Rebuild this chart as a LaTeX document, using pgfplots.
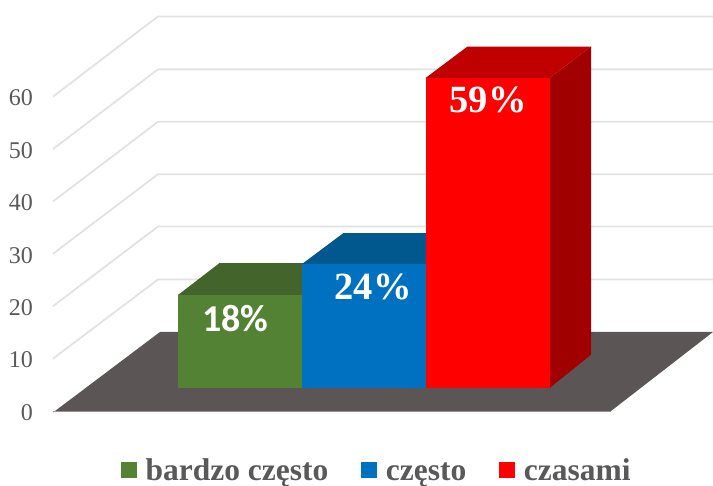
\documentclass[border=0pt]{standalone}
\usepackage{fontspec}
\setmainfont{Liberation Serif}
\newfontfamily\carlito{Carlito}
\usepackage{pgfplots}
\pgfplotsset{compat=1.18}
\definecolor{tickgrey}{HTML}{595959}
\definecolor{gridc}{HTML}{E2E2E2}
\definecolor{floorc}{HTML}{5B5655}
\definecolor{gfront}{HTML}{548235}
\definecolor{gtop}{HTML}{43652B}
\definecolor{bfront}{HTML}{0070C0}
\definecolor{btop}{HTML}{00588F}
\definecolor{rfront}{HTML}{FF0000}
\definecolor{rtop}{HTML}{C00000}
\definecolor{rside}{HTML}{A00000}
\pgfplotsset{
  sq/.style={legend image code/.code={\fill[##1] (0pt,-6.5pt) rectangle (16pt,9.5pt);}},
  poly/.style={forget plot,draw=none,fill=#1},
  gl/.style={forget plot,draw=gridc,line width=1.8pt},
}
\begin{document}
\begin{tikzpicture}[x=1pt,y=1pt]
\useasboundingbox (0,0) rectangle (713pt,486pt);
\begin{axis}[
  at={(36pt,0pt)},anchor=south west,
  scale only axis,width=677pt,height=486pt,
  xmin=36,xmax=713,ymin=-14.31,ymax=78.44,
  clip=false,
  axis line style={draw=none},
  xtick=\empty,
  ytick={0,10,20,30,40,50,60},
  major tick length=0pt,
  /pgf/number format/assume math mode=true,
  yticklabel style={font=\fontsize{24}{24}\selectfont,text=tickgrey,inner xsep=3pt,yshift=-1.5pt},
  legend columns=3,
  legend cell align=left,
  legend style={draw=none,fill=none,at={(0.5035,0.0295)},anchor=center,
    font=\fontsize{31.5}{31.5}\selectfont\bfseries,text=tickgrey,inner sep=0pt,
    nodes={text height=22pt,text depth=4.5pt},
    /tikz/every odd column/.append style={column sep=6.5pt},
    /tikz/every even column/.append style={column sep=31pt}},
]
% back wall and side gridlines
\addplot[gl] coordinates {(53,10)(158,25.1)(713,25.1)};
\addplot[gl] coordinates {(53,20)(158,35.2)(713,35.2)};
\addplot[gl] coordinates {(53,30)(158,45.2)(713,45.2)};
\addplot[gl] coordinates {(53,40)(158,55.2)(713,55.2)};
\addplot[gl] coordinates {(53,50)(158,65.2)(713,65.2)};
\addplot[gl] coordinates {(53,60)(158,75.3)(713,75.3)};
% floor
\addplot[forget plot,draw=gridc!70!black,line width=1pt] coordinates {(53,-0.1)(611,-0.1)};
\addplot[poly=floorc] coordinates {(55,0)(611,0)(713,15.08)(160,15.08)} --cycle;
% green bar: 18
\addplot[poly=gtop] coordinates {(178,22.14)(219.5,28.24)(343.5,28.24)(302,22.14)} --cycle;
\addplot[poly=gfront] coordinates {(178,4.39)(302,4.39)(302,22.14)(178,22.14)} --cycle;
% blue bar: 24
\addplot[poly=btop] coordinates {(302,28.05)(343.5,33.97)(467,33.97)(425.5,28.05)} --cycle;
\addplot[poly=bfront] coordinates {(302,4.39)(425.5,4.39)(425.5,28.05)(302,28.05)} --cycle;
% red bar: 59
\addplot[poly=rtop] coordinates {(425.5,63.55)(467.5,69.56)(591,69.56)(549.5,63.55)} --cycle;
\addplot[poly=rside] coordinates {(549.5,4.39)(591,10.74)(591,69.56)(549.5,63.55)} --cycle;
\addplot[poly=rfront] coordinates {(425.5,4.39)(549.5,4.39)(549.5,63.55)(425.5,63.55)} --cycle;
% data labels
\node[text=white,font=\fontsize{38}{38}\selectfont\carlito\bfseries,inner sep=0pt] at (axis cs:235.5,17.56) {18\%};
\node[text=white,font=\fontsize{38.5}{38.5}\selectfont\bfseries,inner sep=0pt] at (axis cs:373,23.66) {24\%};
\node[text=white,font=\fontsize{38.5}{38.5}\selectfont\bfseries,inner sep=0pt] at (axis cs:488,59.35) {59\%};
% legend
\addlegendimage{sq,fill=gfront,draw=none}
\addlegendentry{bardzo często}
\addlegendimage{sq,fill=bfront,draw=none}
\addlegendentry{często}
\addlegendimage{sq,fill=rfront,draw=none}
\addlegendentry{czasami}
\end{axis}
\end{tikzpicture}
\end{document}
